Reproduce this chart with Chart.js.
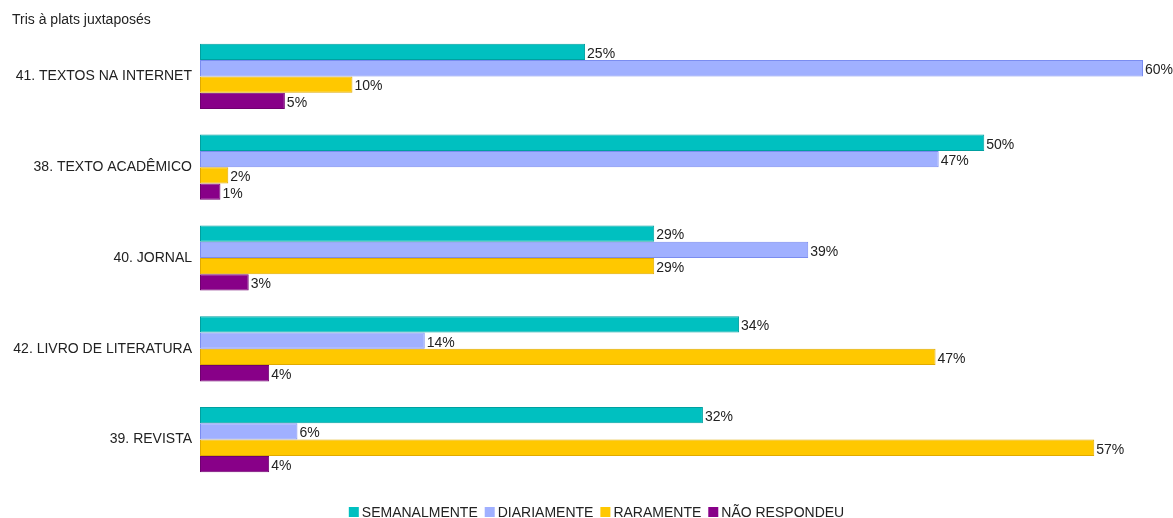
<!DOCTYPE html>
<html>
<head>
<meta charset="utf-8">
<script src="https://cdn.jsdelivr.net/npm/chart.js@4/dist/chart.umd.min.js"></script>
<style>
  html, body { margin: 0; padding: 0; background: #fff; }
  #wrap { position: relative; width: 1173px; height: 518px; }
</style>
</head>
<body>
<div id="wrap"><canvas id="c" width="1173" height="518"></canvas></div>
<script>
const chartTitle = "Tris à plats juxtaposés";
const categories = ["41. TEXTOS NA INTERNET", "38. TEXTO ACADÊMICO", "40. JORNAL", "42. LIVRO DE LITERATURA", "39. REVISTA"];
const seriesNames = ["SEMANALMENTE", "DIARIAMENTE", "RARAMENTE", "NÃO RESPONDEU"];
const semanalmente = [24.5, 49.9, 28.9, 34.3, 32.0];
const diariamente  = [60.0, 47.0, 38.7, 14.3, 6.2];
const raramente    = [9.7, 1.8, 28.9, 46.8, 56.9];
const naoRespondeu = [5.4, 1.3, 3.1, 4.4, 4.4];
const fillColors   = ["#00C0C0", "#A0B0FF", "#FFC800", "#880088"];
const borderColors = ["#00A0A0", "#7A8CF0", "#E0AA00", "#700070"];

const FONT = "'Liberation Sans', Arial, Helvetica, sans-serif";
const seriesValues = [semanalmente, diariamente, raramente, naoRespondeu];

const labelPlugin = {
  id: 'barLabels',
  afterDatasetsDraw(chart) {
    const ctx = chart.ctx;
    ctx.save();
    ctx.font = "14px " + FONT;
    ctx.fillStyle = "#222";
    ctx.textAlign = "left";
    ctx.textBaseline = "middle";
    chart.data.datasets.forEach((ds, i) => {
      const meta = chart.getDatasetMeta(i);
      meta.data.forEach((el, j) => {
        ctx.fillText(Math.round(ds.data[j]) + "%", el.x + 2, el.y + 2);
      });
    });
    ctx.restore();
  }
};

const decorPlugin = {
  id: 'decor',
  afterDraw(chart) {
    const ctx = chart.ctx;
    ctx.save();
    // title
    ctx.font = "14px " + FONT;
    ctx.fillStyle = "#222";
    ctx.textAlign = "left";
    ctx.textBaseline = "middle";
    ctx.fillText(chartTitle, 12, 20);
    // legend
    ctx.font = "14px " + FONT;
    const box = 10, gap = 3, spacing = 7;
    const widths = seriesNames.map(n => ctx.measureText(n).width);
    let total = 0;
    widths.forEach((w, i) => { total += box + gap + w + (i < widths.length - 1 ? spacing : 0); });
    let x = 596.5 - total / 2;
    const y = 512;
    seriesNames.forEach((n, i) => {
      ctx.fillStyle = fillColors[i];
      ctx.fillRect(x, y - 5, box, box);
      ctx.fillStyle = "#222";
      ctx.fillText(n, x + box + gap, y + 1);
      x += box + gap + widths[i] + spacing;
    });
    ctx.restore();
  }
};

new Chart(document.getElementById('c'), {
  type: 'bar',
  data: {
    labels: categories,
    datasets: seriesNames.map((name, i) => ({
      label: name,
      data: seriesValues[i],
      backgroundColor: fillColors[i],
      borderColor: borderColors[i],
      borderWidth: 1,
      borderSkipped: false,
      categoryPercentage: 0.718,
      barPercentage: 1.0
    }))
  },
  options: {
    indexAxis: 'y',
    responsive: false,
    animation: false,
    layout: { padding: { top: 31, bottom: 33, right: 30, left: 0 } },
    plugins: {
      legend: { display: false },
      title: { display: false },
      tooltip: { enabled: false }
    },
    scales: {
      x: {
        display: false,
        min: 0,
        max: 60
      },
      y: {
        grid: { display: false, drawTicks: false },
        border: { display: false },
        ticks: {
          color: "#222",
          font: { family: FONT, size: 14 },
          padding: 8
        },
        afterFit(scale) { scale.width = 200; }
      }
    }
  },
  plugins: [labelPlugin, decorPlugin]
});
</script>
</body>
</html>
